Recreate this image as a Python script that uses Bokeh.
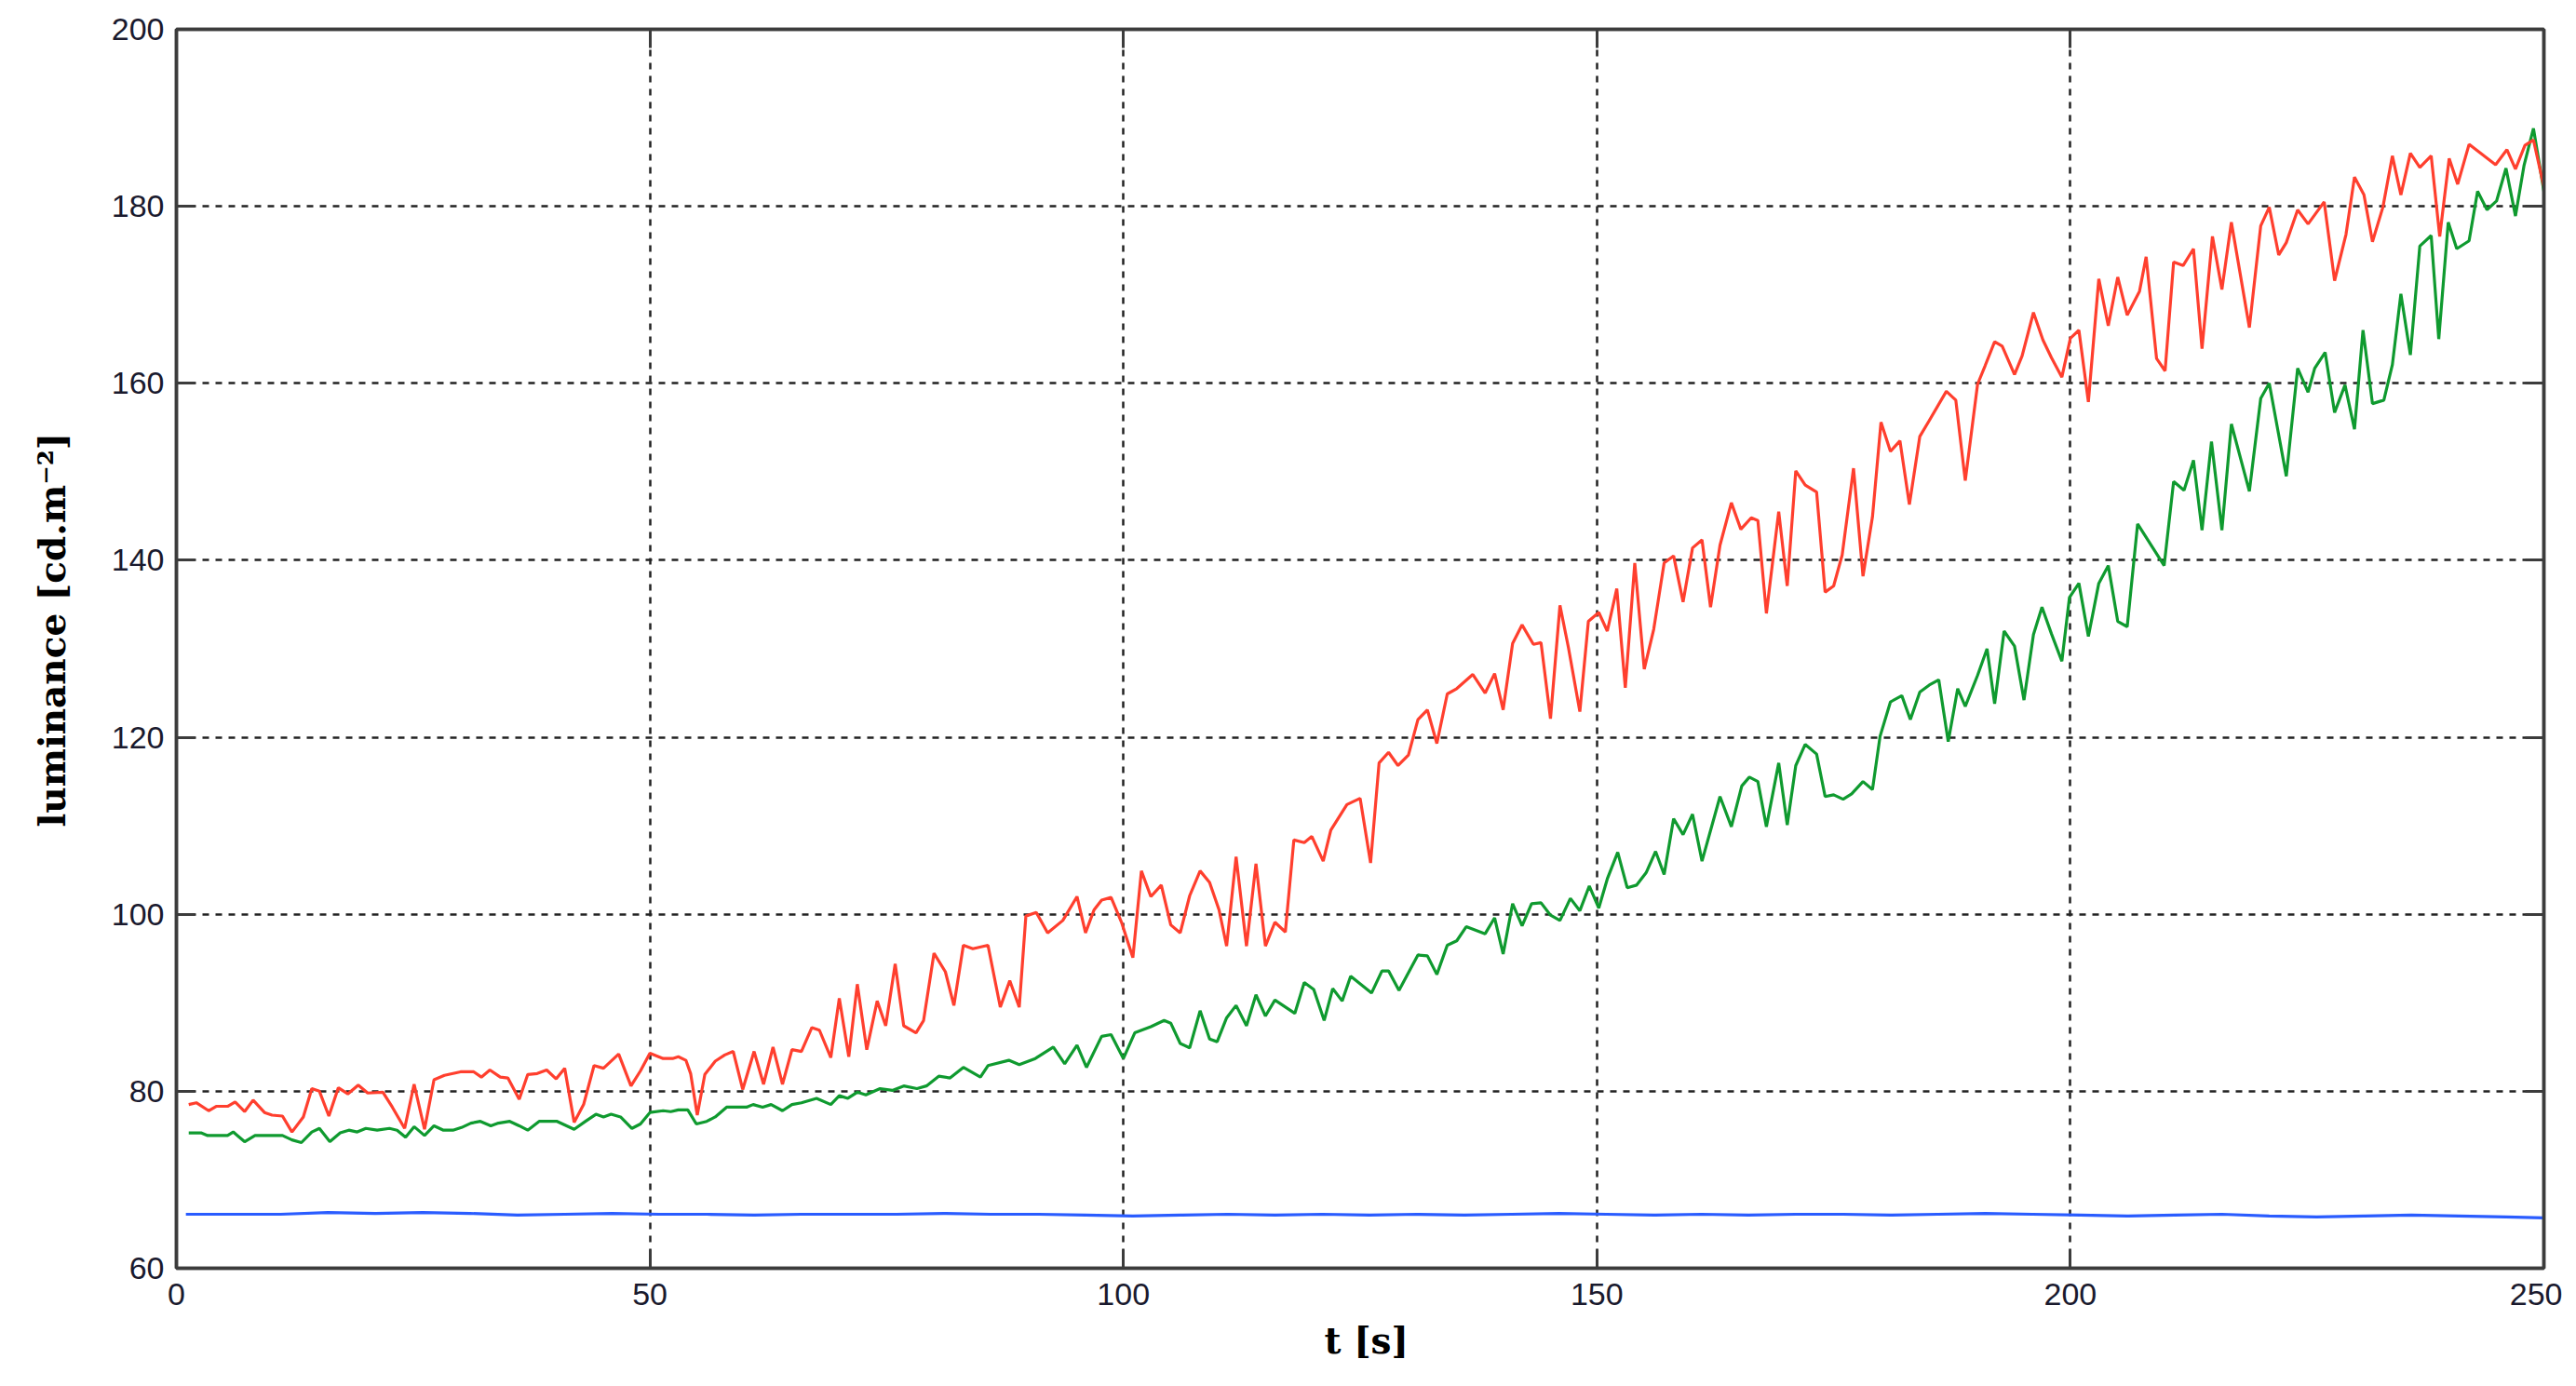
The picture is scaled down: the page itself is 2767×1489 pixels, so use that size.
from bokeh.plotting import figure
from bokeh.models import LinearAxis, Range1d, FixedTicker
from bokeh.embed import file_html
from bokeh.resources import INLINE

# ---- data ----
t_red = [1.3, 2.1, 3.4, 4.2, 5.4, 6.2, 7.2, 8.1, 9.3, 10.1, 11.2, 12.2, 13.4, 14.3, 15.1, 16.1, 17.1, 18.1, 19.2, 20.2,
         21.8, 22.8, 24.1, 25.1, 26.2, 27.2, 28.3, 30.0, 31.4, 32.2, 33.1, 34.2, 35.0, 36.2, 37.1, 38.1, 39.1, 40.1,
         41.0, 42.0, 43.0, 44.1, 45.1, 46.7, 48.0, 49.0, 50.0,
         51.4, 52.4, 53.0, 53.8, 54.3, 55.0, 55.8, 56.9, 57.9, 58.8, 59.8, 61.0, 62.0, 63.0, 64.0, 65.0, 66.0, 67.1,
         67.9, 69.1, 70.0, 71.0, 71.9, 72.9, 74.0, 74.9, 75.9, 76.8, 78.1, 78.9, 80.0, 81.2, 82.1, 83.1, 84.1, 85.7,
         87.0, 88.0, 89.0, 89.7, 90.8, 92.0, 93.6, 95.1, 96.0, 96.9, 97.7, 98.7, 99.8,
         101.0, 101.9, 102.9, 104.0, 105.0, 106.0, 107.0, 108.1, 109.1, 110.1, 110.9, 111.9, 113.0, 114.0, 115.0,
         116.0, 117.1, 118.0, 119.1, 119.9, 121.1, 121.9, 123.6, 125.0, 126.1, 127.0, 128.0, 129.0, 130.1, 131.1,
         132.1, 133.1, 134.2, 135.2, 136.9, 138.2, 139.2, 140.1, 141.1, 142.1, 143.3, 144.1, 145.1, 146.1, 147.0,
         148.2, 149.1, 150.2,
         151.1, 152.1, 153.0, 154.0, 155.0, 156.0, 157.1, 158.1, 159.1, 160.1, 161.1, 162.0, 163.0, 164.2, 165.2,
         166.3, 167.0, 167.9, 169.2, 170.1, 171.0, 172.0, 173.2, 174.1, 175.0, 175.9, 177.1, 178.1, 179.1, 180.0,
         181.0, 182.0, 183.0, 184.1, 185.1, 186.9, 187.9, 188.9, 190.2, 191.0, 192.0, 192.8, 194.1, 194.9, 196.1,
         197.1, 198.0, 199.1, 200.0,
         200.9, 201.9, 203.0, 204.0, 205.0, 206.0, 207.3, 208.0, 209.1, 210.0, 210.9, 211.9, 213.0, 213.9, 215.0,
         216.0, 217.0, 218.9, 220.1, 221.0, 222.0, 222.8, 224.0, 225.1, 226.8, 227.9, 229.1, 230.0, 231.0, 231.9,
         233.0, 234.0, 234.9, 235.9, 236.9, 238.1, 239.0, 240.0, 240.9, 242.1, 244.9, 246.1, 247.0, 248.0, 248.9,
         250.0]
lum_red = [78.5, 78.7, 77.8, 78.3, 78.3, 78.8, 77.7, 79.0, 77.6, 77.3, 77.2, 75.4, 77.1, 80.3, 80.0, 77.2, 80.4, 79.7, 80.7, 79.8,
           79.9, 78.2, 75.8, 80.8, 75.7, 81.3, 81.8, 82.2, 82.2, 81.6, 82.4, 81.6, 81.5, 79.1, 81.9, 82.0, 82.4, 81.4,
           82.6, 76.5, 78.5, 82.9, 82.6, 84.2, 80.6, 82.3, 84.3,
           83.7, 83.7, 83.9, 83.5, 82.0, 77.3, 81.9, 83.4, 84.1, 84.5, 80.2, 84.5, 80.8, 85.0, 80.8, 84.7, 84.5, 87.2,
           86.9, 83.8, 90.5, 83.9, 92.1, 84.7, 90.2, 87.4, 94.4, 87.4, 86.6, 88.0, 95.6, 93.5, 89.7, 96.5, 96.1, 96.5,
           89.5, 92.5, 89.5, 99.8, 100.2, 97.9, 99.3, 102.0, 97.9, 100.5, 101.6, 101.9, 99.1,
           95.1, 104.9, 102.0, 103.3, 98.8, 97.9, 102.1, 104.9, 103.6, 100.5, 96.4, 106.5, 96.4, 105.7, 96.4,
           99.1, 98.0, 108.4, 108.1, 108.8, 106.0, 109.5, 112.4, 113.1, 105.8, 117.1, 118.3, 116.8, 118.0, 122.0,
           123.1, 119.3, 124.9, 125.5, 127.1, 125.0, 127.2, 123.1, 130.6, 132.7, 130.5, 130.7, 122.1, 134.9, 130.1,
           122.9, 133.1, 134.1,
           132.0, 136.8, 125.6, 139.7, 127.7, 132.2, 139.7, 140.5, 135.3, 141.4, 142.3, 134.7, 141.7, 146.5, 143.5,
           144.8, 144.5, 134.0, 145.5, 137.1, 150.1, 148.5, 147.7, 136.4, 137.1, 140.6, 150.4, 138.2, 144.9, 155.6,
           152.3, 153.5, 146.3, 154.0, 155.8, 159.1, 158.1, 149.0, 159.9, 162.0, 164.7, 164.2, 161.0, 163.1, 168.0,
           164.9, 162.9, 160.7, 165.1,
           166.0, 157.9, 171.8, 166.5, 172.0, 167.7, 170.4, 174.3, 162.8, 161.4, 173.7, 173.3, 175.2, 163.9, 176.6,
           170.6, 178.2, 166.3, 177.8, 179.9, 174.5, 175.9, 179.6, 178.0, 180.5, 171.6, 176.8, 183.3, 181.3, 176.0,
           179.9, 185.7, 181.3, 186.0, 184.4, 185.7, 176.6, 185.4, 182.5, 187.0, 184.7, 186.4, 184.2, 186.9, 187.5,
           182.2]

t_green = [1.3, 2.6, 3.3, 5.4, 6.0, 7.2, 8.3, 11.2, 12.2, 13.2, 14.3, 15.1, 16.2, 17.3, 18.2, 19.1, 20.0, 21.2, 22.5,
           23.3, 24.2, 25.1, 26.2, 27.2, 28.2, 29.2, 30.1, 31.1, 32.1, 33.2, 34.0, 35.2, 36.2, 37.1, 38.3, 40.2, 42.0,
           43.2, 44.3, 45.1, 45.9, 46.9, 48.1, 49.0, 50.0,
           51.4, 52.2, 53.0, 54.0, 54.9, 56.0, 56.9, 58.1, 59.1, 60.2, 60.9, 61.9, 62.8, 64.0, 65.0, 66.0, 67.6, 69.1,
           70.0, 70.9, 71.9, 72.8, 74.3, 75.6, 76.8, 78.2, 79.2, 80.5, 81.7, 83.1, 84.9, 85.7, 87.9, 89.0, 90.7, 92.6,
           93.8, 95.1, 96.1, 97.7, 98.7, 100.0,
           101.2, 102.9, 104.3, 105.0, 106.0, 107.0, 108.1, 109.1, 109.9, 110.9, 111.9, 113.0, 114.0, 115.0, 116.0,
           118.1, 119.1, 120.1, 121.2, 122.1, 123.1, 124.0, 126.2, 127.3, 128.0, 129.1, 131.1, 132.1, 133.1, 134.2,
           135.2, 136.2, 138.2, 139.2, 140.1, 141.1, 142.1, 143.1, 144.1, 145.1, 146.1, 147.2, 148.2, 149.2, 150.2,
           151.1, 152.2, 153.2, 154.2, 155.2, 156.2, 157.1, 158.1, 159.1, 160.1, 161.1, 163.0, 164.2, 165.3, 166.1,
           167.0, 167.9, 169.2, 170.1, 171.0, 172.0, 173.2, 174.1, 175.0, 176.0, 176.9, 178.1, 179.1, 179.9, 181.0,
           182.2, 183.1, 184.1, 185.1, 186.1, 187.1, 188.1, 188.9, 190.2, 191.2, 192.0, 193.0, 194.1, 195.1, 196.1,
           197.0, 198.0, 199.1, 199.9,
           200.9, 201.9, 203.0, 204.0, 205.0, 206.0, 207.1, 209.9, 210.9, 212.0, 213.0, 213.9, 214.9, 216.0, 217.0,
           218.9, 220.1, 221.0, 222.8, 224.0, 225.1, 225.8, 226.9, 227.9, 229.0, 230.0, 230.9, 231.9, 233.1, 234.0,
           234.9, 235.9, 236.9, 238.1, 238.9, 239.9, 240.8, 242.1, 243.0, 244.0, 245.0, 246.0, 247.0, 247.9, 248.9,
           250.0]
lum_green = [75.3, 75.3, 75.0, 75.0, 75.4, 74.3, 75.0, 75.0, 74.5, 74.2, 75.4, 75.8, 74.3, 75.3, 75.6, 75.4, 75.8, 75.6, 75.8,
             75.6, 74.8, 76.0, 75.0, 76.1, 75.6, 75.6, 75.9, 76.4, 76.6, 76.1, 76.4, 76.6, 76.1, 75.6, 76.6, 76.6, 75.7,
             76.6, 77.4, 77.1, 77.4, 77.1, 75.8, 76.3, 77.6,
             77.8, 77.7, 77.9, 77.9, 76.3, 76.6, 77.1, 78.2, 78.2, 78.2, 78.5, 78.2, 78.5, 77.8, 78.5, 78.7, 79.2, 78.5,
             79.5, 79.2, 79.9, 79.6, 80.3, 80.1, 80.6, 80.3, 80.6, 81.7, 81.5, 82.7, 81.6, 82.9, 83.5, 83.0, 83.7, 85.0,
             83.1, 85.2, 82.7, 86.2, 86.4, 83.7,
             86.6, 87.3, 88.0, 87.7, 85.4, 84.9, 89.1, 85.9, 85.6, 88.3, 89.7, 87.4, 90.9, 88.5, 90.3,
             88.8, 92.3, 91.5, 88.0, 91.6, 90.2, 93.0, 91.1, 93.6, 93.6, 91.4, 95.4, 95.3, 93.2, 96.5,
             97.0, 98.6, 97.8, 99.6, 95.5, 101.2, 98.7, 101.2, 101.3, 99.9, 99.3, 101.8, 100.4, 103.2, 100.7,
             104.0, 107.0, 103.0, 103.3, 104.7, 107.1, 104.5, 110.8, 109.0, 111.3, 106.0, 113.3, 109.9, 114.5, 115.5,
             115.0, 109.9, 117.1, 110.1, 116.8, 119.2, 118.1, 113.3, 113.5, 113.0, 113.6, 115.0, 114.1, 120.1, 124.0,
             124.7, 122.0, 125.1, 125.9, 126.5, 119.5, 125.5, 123.5, 127.0, 130.0, 123.8, 132.0, 130.3, 124.2, 131.6,
             134.7, 131.7, 128.6, 135.8,
             137.4, 131.4, 137.4, 139.4, 133.1, 132.5, 144.1, 139.4, 148.9, 147.9, 151.3, 143.4, 153.4, 143.4, 155.4,
             147.8, 158.3, 160.0, 149.5, 161.7, 159.0, 161.7, 163.5, 156.7, 159.8, 154.8, 166.0, 157.7, 158.1, 162.1,
             170.1, 163.2, 175.5, 176.7, 165.0, 178.2, 175.2, 176.1, 181.7, 179.6, 180.6, 184.3, 178.9, 184.6, 188.8,
             181.7]

t_blue = [1, 6, 11, 16, 21, 26, 31, 36, 41, 46, 51, 56, 61, 66, 71, 76, 81, 86, 91, 96, 101, 106, 111, 116, 121,
          126, 131, 136, 141, 146, 151, 156, 161, 166, 171, 176, 181, 186, 191, 196, 201, 206, 211, 216, 221, 226,
          231, 236, 241, 246, 250]
lum_blue = [66.1, 66.1, 66.1, 66.3, 66.2, 66.3, 66.2, 66.0, 66.1, 66.2, 66.1, 66.1, 66.0, 66.1, 66.1, 66.1, 66.2,
            66.1, 66.1, 66.0, 65.9, 66.0, 66.1, 66.0, 66.1, 66.0, 66.1, 66.0, 66.1, 66.2, 66.1, 66.0, 66.1, 66.0,
            66.1, 66.1, 66.0, 66.1, 66.2, 66.1, 66.0, 65.9, 66.0, 66.1, 65.9, 65.8, 65.9, 66.0, 65.9, 65.8, 65.7]

x_ticks = [0, 50, 100, 150, 200, 250]
y_ticks = [60, 80, 100, 120, 140, 160, 180, 200]
x_label = "\u00a0t [s]"
y_label = "\u00a0\u00a0\u00a0luminance [cd.m\u207b\u00b2]"

FRAME = "#3c3c3c"
TICK_FONT = "Liberation Sans"
LABEL_FONT = "DejaVu Serif"

p = figure(frame_width=2543, frame_height=1331,
           x_range=Range1d(0, 250), y_range=Range1d(60, 200),
           output_backend="svg", toolbar_location=None,
           min_border_left=189, min_border_top=31, min_border_bottom=100, min_border_right=20,
           background_fill_color="white", border_fill_color="white")

p.outline_line_color = FRAME
p.outline_line_width = 3.5

for ax in (p.xaxis[0], p.yaxis[0]):
    ax.axis_line_color = FRAME
    ax.axis_line_width = 3.5
    ax.major_tick_in = 20
    ax.major_tick_out = 0
    ax.major_tick_line_color = FRAME
    ax.major_tick_line_width = 3
    ax.minor_tick_line_color = None
    ax.major_label_text_font = TICK_FONT
    ax.major_label_text_font_size = "34px"
    ax.major_label_text_color = "#1a1a2e"
    ax.axis_label_text_font = LABEL_FONT
    ax.axis_label_text_font_style = "bold"
    ax.axis_label_text_font_size = "39px"
    ax.axis_label_text_color = "black"

p.xaxis[0].ticker = FixedTicker(ticks=x_ticks)
p.yaxis[0].ticker = FixedTicker(ticks=y_ticks)
p.xaxis[0].axis_label = x_label
p.yaxis[0].axis_label = y_label
p.xaxis[0].major_label_standoff = 16
p.yaxis[0].major_label_standoff = 13
p.xaxis[0].axis_label_standoff = 12
p.yaxis[0].axis_label_standoff = 38

# box ticks on top and right
top = LinearAxis(ticker=FixedTicker(ticks=x_ticks))
right = LinearAxis(ticker=FixedTicker(ticks=y_ticks))
for ax in (top, right):
    ax.axis_line_color = FRAME
    ax.axis_line_width = 3.5
    ax.major_tick_in = 20
    ax.major_tick_out = 0
    ax.major_tick_line_color = FRAME
    ax.major_tick_line_width = 3
    ax.minor_tick_line_color = None
    ax.major_label_text_font_size = "1px"
    ax.major_label_text_color = None
    ax.major_label_standoff = 0
p.add_layout(top, "above")
p.add_layout(right, "right")

p.xgrid.ticker = FixedTicker(ticks=x_ticks[1:-1])
p.ygrid.ticker = FixedTicker(ticks=y_ticks[1:-1])
for g in (p.xgrid[0], p.ygrid[0]):
    g.grid_line_color = "#222222"
    g.grid_line_width = 2.5
    g.grid_line_dash = "7 7"

p.line(t_blue, lum_blue, line_color="#2a5cff", line_width=3.2)
p.line(t_green, lum_green, line_color="#0f9a2f", line_width=3.2)
p.line(t_red, lum_red, line_color="#ff3f2e", line_width=3.2)

open("out.html", "w").write(file_html(p, INLINE))
